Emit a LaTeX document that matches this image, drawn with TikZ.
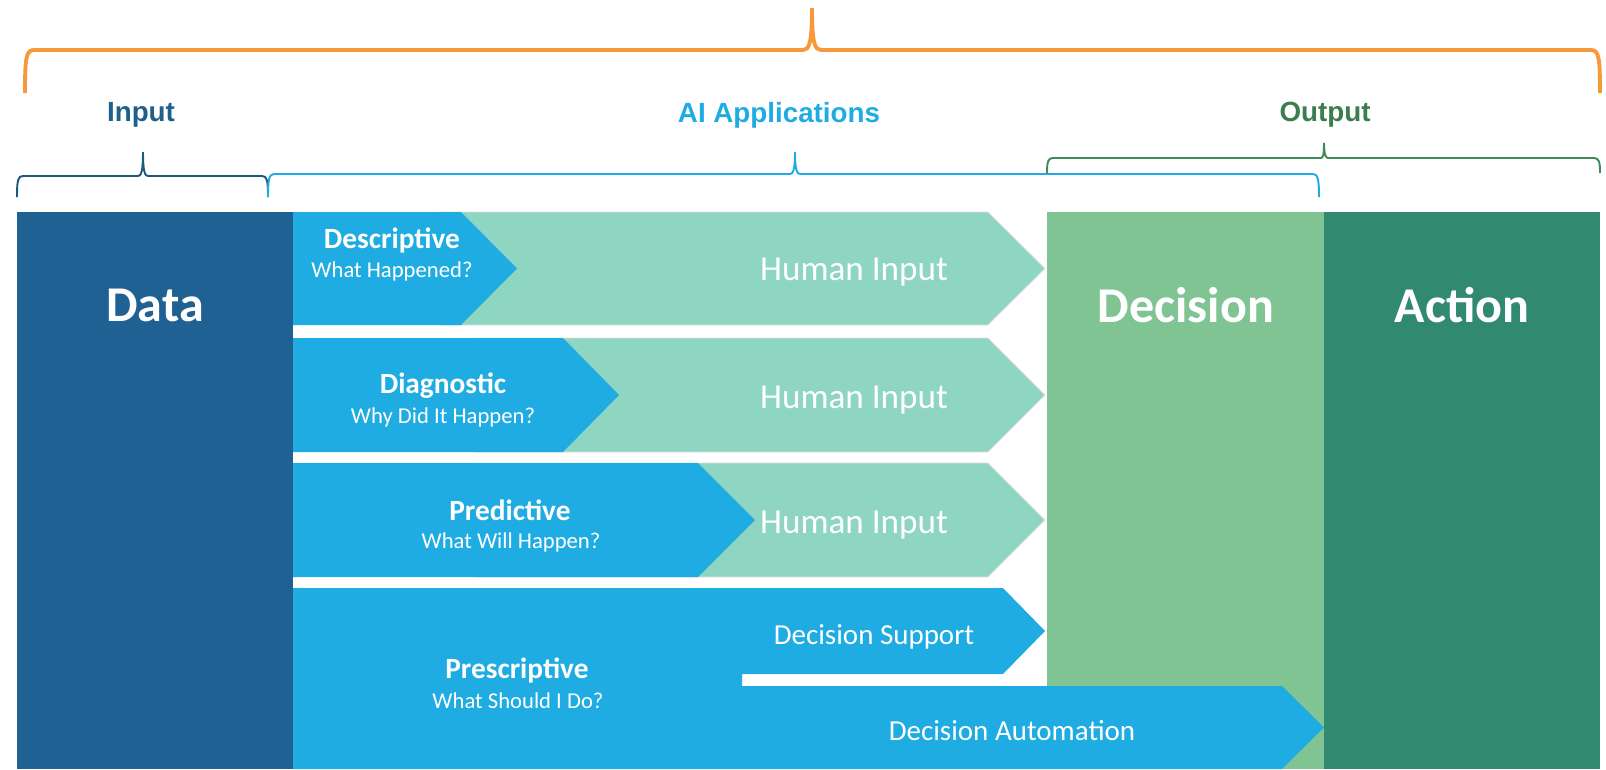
\documentclass[tikz,border=0pt]{standalone}
\usepackage{fontspec}
\setmainfont{Carlito}
\newfontfamily\headfont{Liberation Sans}
\definecolor{databox}{HTML}{1F6193}
\definecolor{aiblue}{HTML}{1FACE3}
\definecolor{humangreen}{HTML}{8ED5C2}
\definecolor{decisiongreen}{HTML}{80C493}
\definecolor{actiongreen}{HTML}{318A6F}
\definecolor{braceorange}{HTML}{F7983A}
\definecolor{inputblue}{HTML}{1F5F8B}
\definecolor{inputbrace}{HTML}{1D5A78}
\definecolor{outputgreen}{HTML}{3A7D4E}
\definecolor{outputbrace}{HTML}{3E8B5A}
\begin{document}
\begin{tikzpicture}[x=0.02cm, y=-0.02cm,
    bigtitle/.style={text=white, inner sep=0pt, font=\bfseries\fontsize{28.5}{32}\selectfont},
    kindtitle/.style={text=white, inner sep=0pt, font=\bfseries\fontsize{16.7}{19}\selectfont},
    kindquestion/.style={text=white, inner sep=0pt, font=\fontsize{12.9}{15}\selectfont},
    humantext/.style={text=white, inner sep=0pt, font=\fontsize{20}{23}\selectfont},
    decisiontext/.style={text=white, inner sep=0pt, font=\fontsize{16.5}{19}\selectfont},
    grouplabel/.style={inner sep=0pt, font=\headfont\bfseries\fontsize{15.8}{18}\selectfont},
    humanarrow/.style={fill=humangreen, draw=black!12, line width=0.5pt}]
                \useasboundingbox (0,0) rectangle (1606,769);

                \draw[braceorange, line width=2.2pt] (25,93) .. controls (25,58) and (26,50) .. (34,50) -- (803,50) .. controls (809,50) and (812,44) .. (812,8) .. controls (812,44) and (815,50) .. (821,50) -- (1591,50) .. controls (1599,50) and (1600,58) .. (1600,93);
                \draw[inputbrace, line width=1.1pt] (17,197) .. controls (17,180) and (18,176) .. (23,176) -- (138,176) .. controls (141,176) and (143,172) .. (143,152) .. controls (143,172) and (145,176) .. (148,176) -- (262,176) .. controls (267,176) and (268,180) .. (268,197);
                \draw[aiblue, line width=1.1pt] (268,197) .. controls (268,180) and (269,174) .. (274,174) -- (790,174) .. controls (793,174) and (795,170) .. (795,152) .. controls (795,170) and (797,174) .. (800,174) -- (1313,174) .. controls (1318,174) and (1319,180) .. (1319,197);
                \draw[outputbrace, line width=1.1pt] (1047,173) .. controls (1047,162) and (1048,158) .. (1053,158) -- (1321,158) .. controls (1323,158) and (1324,155) .. (1324,143) .. controls (1324,155) and (1326,158) .. (1328,158) -- (1594,158) .. controls (1599,158) and (1600,162) .. (1600,173);

                \node[grouplabel, text=inputblue] (input) at (141,115) {Input};
                \node[grouplabel, text=aiblue] (aiapps) at (779,115) {AI Applications};
                \node[grouplabel, text=outputgreen] (output) at (1325,115) {Output};

                \fill[databox] (17,212) rectangle (293,769);
                \fill[decisiongreen] (1047,212) rectangle (1324,769);
                \fill[actiongreen] (1324,212) rectangle (1600,769);

                \filldraw[humanarrow] (440,212) -- (988,212) -- (1045,268.5) -- (988,325) -- (440,325) -- cycle;
                \fill[aiblue] (293,212) -- (461,212) -- (517,268.5) -- (461,325) -- (293,325) -- cycle;
                \filldraw[humanarrow] (474,338) -- (988,338) -- (1045,395) -- (988,452) -- (474,452) -- cycle;
                \fill[aiblue] (293,338) -- (563,338) -- (619,395) -- (563,452) -- (293,452) -- cycle;
                \filldraw[humanarrow] (474,463) -- (988,463) -- (1045,520) -- (988,577) -- (474,577) -- cycle;
                \fill[aiblue] (293,463) -- (698,463) -- (755,520) -- (698,577) -- (293,577) -- cycle;

                \fill[aiblue] (293,588) -- (1003,588) -- (1045,631) -- (1003,674) -- (742,674) -- (742,686) -- (1282,686) -- (1324,727.5) -- (1282,769) -- (293,769) -- cycle;

                \node[bigtitle] (data) at (155,305) {Data};
                \node[bigtitle] (decision) at (1186,305) {Decision};
                \node[bigtitle] (action) at (1462,305) {Action};

                \node[kindtitle] (descriptive) at (392,240) {Descriptive};
                \node[kindquestion] (descq) at (392,271) {What Happened?};
                \node[humantext] (human1) at (854,272) {Human Input};

                \node[kindtitle] (diagnostic) at (443,386) {Diagnostic};
                \node[kindquestion] (diagq) at (443,417) {Why Did It Happen?};
                \node[humantext] (human2) at (854,400) {Human Input};

                \node[kindtitle] (predictive) at (510,510) {Predictive};
                \node[kindquestion] (predq) at (511,542) {What Will Happen?};
                \node[humantext] (human3) at (854,525) {Human Input};

                \node[kindtitle] (prescriptive) at (517,670) {Prescriptive};
                \node[kindquestion] (prescq) at (518,701) {What Should I Do?};
                \node[decisiontext] (support) at (874,637) {Decision Support};
                \node[decisiontext] (automation) at (1012,731) {Decision Automation};
\end{tikzpicture}
\end{document}
